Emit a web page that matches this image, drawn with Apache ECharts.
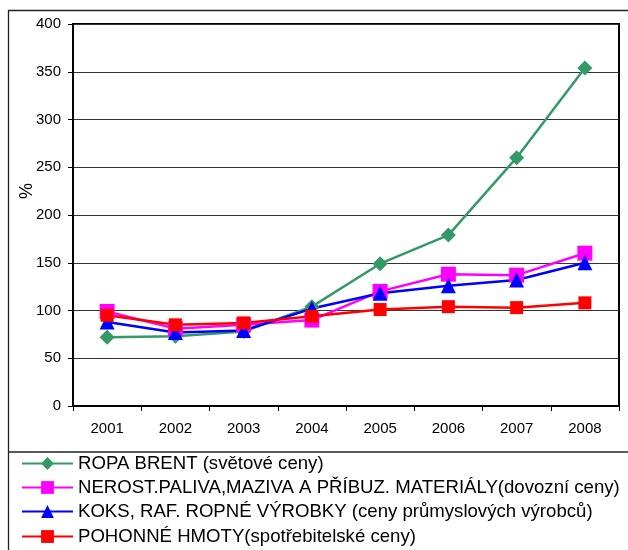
<!DOCTYPE html>
<html><head><meta charset="utf-8">
<script src="https://cdn.jsdelivr.net/npm/echarts@6/dist/echarts.min.js"></script>
<style>html,body{margin:0;padding:0;background:#fff}#c{width:628px;height:550px}</style>
</head><body><div id="c"></div>
<script>
var categories = ['2001','2002','2003','2004','2005','2006','2007','2008'];
var ropaBrent = [72, 73, 78, 104, 149, 179, 260, 354];
var nerostPaliva = [99, 81, 85, 90, 120, 138, 137, 160];
var koksRaf = [88, 77, 79, 102, 118, 126, 132, 150];
var pohonneHmoty = [95, 85, 87, 94, 101, 104, 103, 108];
var yTicks = [0, 50, 100, 150, 200, 250, 300, 350, 400];

var names = [
  'ROPA BRENT (světové ceny)',
  'NEROST.PALIVA,MAZIVA A PŘÍBUZ. MATERIÁLY(dovozní ceny)',
  'KOKS, RAF. ROPNÉ VÝROBKY (ceny průmyslových výrobců)',
  'POHONNÉ HMOTY(spotřebitelské ceny)'
];
var font = 'Liberation Sans, Arial, sans-serif';
var chart = echarts.init(document.getElementById('c'), null, {renderer:'canvas'});
function ser(name, data, color, symbol, size) {
  return {name:name, type:'line', data:data, symbol:symbol, symbolSize:size,
    showAllSymbol:true, animation:false,
    lineStyle:{color:color, width:2.5}, itemStyle:{color:color, borderWidth:0}};
}
var legendTops = [454, 478, 502, 527];
var legends = names.map(function(n, i){
  return {
    orient:'vertical', left:21, top:legendTops[i], itemWidth:51, itemHeight:16, padding:0,
    textStyle:{fontFamily:font, fontSize:18.6, color:'#000'},
    data:[n]
  };
});
chart.setOption({
  animation:false,
  graphic:[
    {type:'rect', shape:{x:8.5,y:10.5,width:640,height:560}, style:{fill:'none', stroke:'#222', lineWidth:1.3}, silent:true},
    {type:'line', shape:{x1:8,y1:452,x2:628,y2:452}, style:{stroke:'#222', lineWidth:1.3}, silent:true}
  ],
  grid:{left:73, top:24, right:9, bottom:144, show:true, borderColor:'#000', borderWidth:2, backgroundColor:'transparent'},
  legend:legends,
  xAxis:{
    type:'category', data:categories, boundaryGap:true,
    axisLine:{lineStyle:{color:'#000', width:2}},
    axisTick:{show:true, length:5, lineStyle:{color:'#000', width:1}, alignWithLabel:false},
    axisLabel:{color:'#000', fontFamily:font, fontSize:15, margin:15}
  },
  yAxis:{
    type:'value', min:0, max:400, interval:50,
    name:'%', nameLocation:'middle', nameGap:37, nameRotate:90, nameMoveOverlap:false,
    nameTextStyle:{color:'#000', fontFamily:font, fontSize:18, padding:[0,0,0,48]},
    axisLine:{show:true, lineStyle:{color:'#000', width:2}},
    axisTick:{show:true, length:5, lineStyle:{color:'#000', width:1}},
    axisLabel:{color:'#000', fontFamily:font, fontSize:15, margin:12,
      formatter:function(v){ return yTicks.indexOf(v) >= 0 ? String(v) : ''; }},
    splitLine:{show:true, lineStyle:{color:'#333', width:1}}
  },
  series:[
    ser(names[0], ropaBrent, '#339966', 'diamond', 15),
    ser(names[1], nerostPaliva, '#FF00FF', 'rect', 15),
    ser(names[2], koksRaf, '#0000FF', 'triangle', 15),
    ser(names[3], pohonneHmoty, '#FF0000', 'rect', 13)
  ]
});
</script></body></html>
